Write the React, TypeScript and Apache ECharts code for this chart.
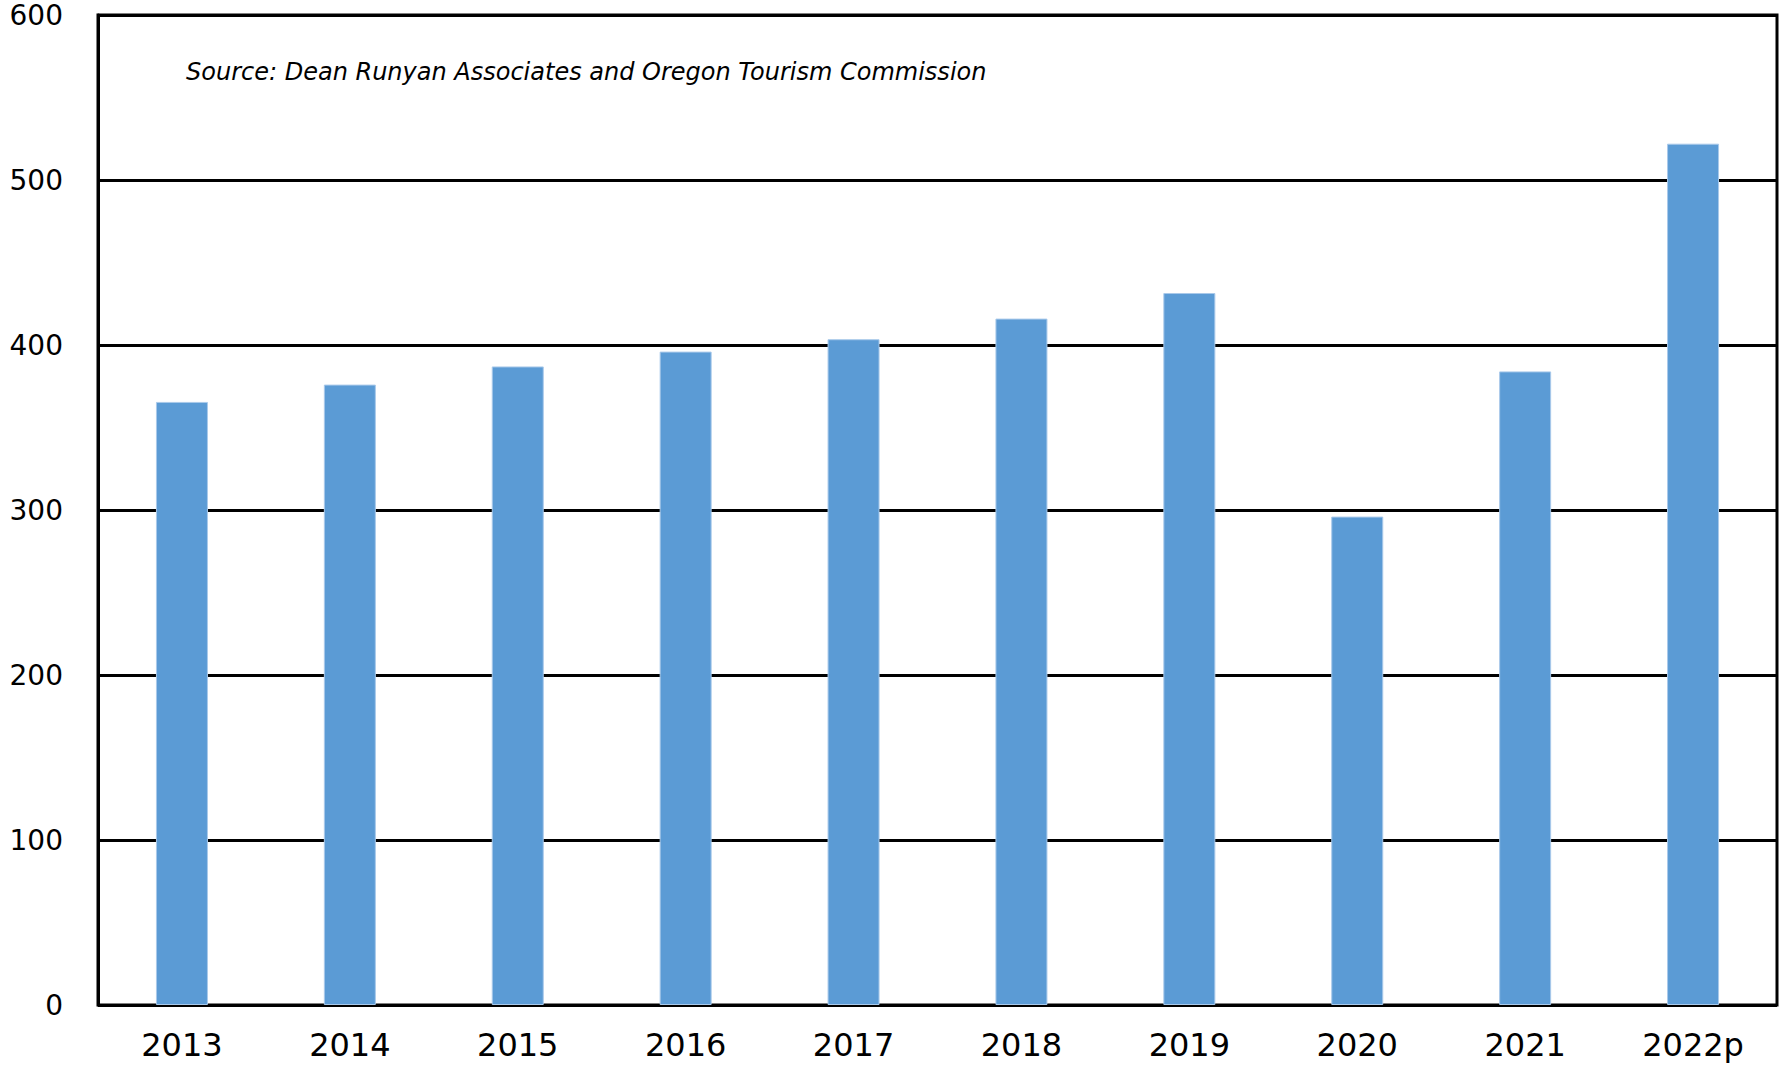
import React, { useEffect, useRef } from "react";
import * as echarts from "echarts";

const categories = ["2013", "2014", "2015", "2016", "2017", "2018", "2019", "2020", "2021", "2022p"];
const values = [365.5, 376, 387, 396, 403.5, 416, 431.5, 296, 384, 522];
const yTicks = { min: 0, max: 600, interval: 100 };
const sourceText = "Source: Dean Runyan Associates and Oregon Tourism Commission";

export default function App() {
  const ref = useRef<HTMLDivElement>(null);
  useEffect(() => {
    if (!ref.current) return;
    const chart = echarts.init(ref.current, undefined, { renderer: "svg" });
    const font = "'DejaVu Sans', Verdana, sans-serif";
    chart.setOption({
      animation: false,
      backgroundColor: "#ffffff",
      grid: {
        left: 98,
        right: 4,
        top: 15,
        bottom: 61,
        show: true,
        borderColor: "#000",
        borderWidth: 3,
      },
      graphic: [
        {
          type: "text",
          left: 186,
          top: 60,
          style: {
            text: sourceText,
            font: `italic 24px ${font}`,
            fill: "#000",
          },
        },
      ],
      xAxis: {
        type: "category",
        data: categories,
        axisLine: { show: true, lineStyle: { color: "#000", width: 2 } },
        axisTick: { show: false },
        axisLabel: { color: "#000", fontSize: 32, fontFamily: font, margin: 24 },
      },
      yAxis: {
        type: "value",
        min: yTicks.min,
        max: yTicks.max,
        interval: yTicks.interval,
        axisLine: { show: true, lineStyle: { color: "#000", width: 3 } },
        axisTick: { show: false },
        splitLine: { show: true, lineStyle: { color: "#000", width: 3 } },
        axisLabel: { color: "#000", fontSize: 28, fontFamily: font, margin: 35 },
      },
      series: [
        {
          type: "bar",
          data: values,
          barWidth: 52,
          itemStyle: { color: "#5B9BD5", borderColor: "#a9c9ea", borderWidth: 1 },
        },
      ],
    });
    return () => chart.dispose();
  }, []);
  return (
    <div
      ref={ref}
      style={{ position: "absolute", left: 0, top: 0, width: 1781, height: 1066 }}
    />
  );
}
